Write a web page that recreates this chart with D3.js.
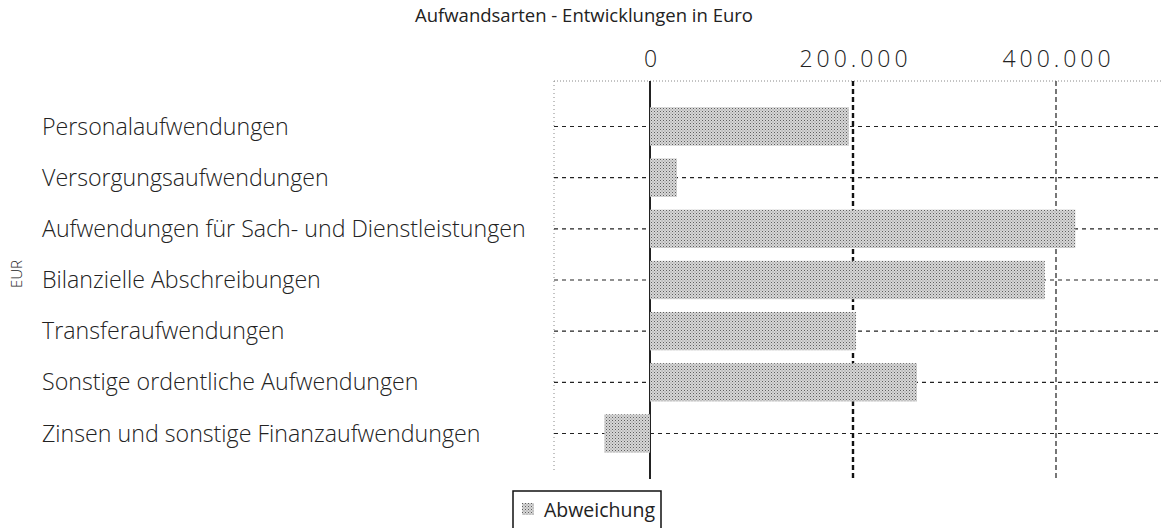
<!DOCTYPE html>
<html>
<head>
<meta charset="utf-8">
<script src="https://cdn.jsdelivr.net/npm/d3@7"></script>
<style>
  body { margin: 0; background: #fff; }
  text { font-family: "Open Sans", Lato, sans-serif; }
</style>
</head>
<body>
<div id="chart"></div>
<script>
// data
const categories = [
  "Personalaufwendungen",
  "Versorgungsaufwendungen",
  "Aufwendungen für Sach- und Dienstleistungen",
  "Bilanzielle Abschreibungen",
  "Transferaufwendungen",
  "Sonstige ordentliche Aufwendungen",
  "Zinsen und sonstige Finanzaufwendungen"
];
const abweichung = [196000, 26500, 419000, 389000, 203000, 263000, -45000];
const tickValues = [0, 200000, 400000];
const seriesName = "Abweichung";
const title = "Aufwandsarten - Entwicklungen in Euro";

const width = 1162, height = 528;
const plot = {left: 554, right: 1162, top: 81, bottom: 479};

const de = d3.formatLocale({decimal: ",", thousands: ".", grouping: [3], currency: ["", " €"]});

const svg = d3.select("#chart").append("svg")
  .attr("width", width)
  .attr("height", height);

// halftone-ish fill like the print
const defs = svg.append("defs");
const pat = defs.append("pattern")
  .attr("id", "dots")
  .attr("width", 3).attr("height", 3)
  .attr("patternUnits", "userSpaceOnUse");
pat.append("rect").attr("width", 3).attr("height", 3).attr("fill", "#d6d6d6");
pat.append("rect").attr("x", 0).attr("y", 0).attr("width", 1).attr("height", 1).attr("fill", "#5e5e5e");
pat.append("rect").attr("x", 1.5).attr("y", 1.5).attr("width", 1).attr("height", 1).attr("fill", "#8a8a8a");

const x = d3.scaleLinear()
  .domain([0, 400000])
  .range([650, 1056]);

const y = d3.scaleBand()
  .domain(categories)
  .range([94.5, 465.5])
  .padding(0.25);

// title
svg.append("text")
  .attr("x", 584).attr("y", 22)
  .attr("text-anchor", "middle")
  .attr("font-size", 18.5)
  .attr("fill", "#222")
  .text(title);

// frame: dotted top and left
svg.append("line")
  .attr("x1", plot.left).attr("x2", plot.right)
  .attr("y1", plot.top).attr("y2", plot.top)
  .attr("stroke", "#888").attr("stroke-dasharray", "1,2");
svg.append("line")
  .attr("x1", plot.left).attr("x2", plot.left)
  .attr("y1", plot.top).attr("y2", 472)
  .attr("stroke", "#888").attr("stroke-dasharray", "1,3");

// horizontal dashed grid at each category
svg.append("g")
  .selectAll("line")
  .data(categories)
  .join("line")
    .attr("x1", plot.left).attr("x2", plot.right)
    .attr("y1", d => y(d) + y.bandwidth() / 2)
    .attr("y2", d => y(d) + y.bandwidth() / 2)
    .attr("stroke", "#222")
    .attr("stroke-width", 1.2)
    .attr("stroke-dasharray", "4,4");

// vertical grid at 200.000 / 400.000
svg.append("g")
  .selectAll("line")
  .data(tickValues.filter(d => d !== 0))
  .join("line")
    .attr("x1", d => x(d)).attr("x2", d => x(d))
    .attr("y1", plot.top).attr("y2", plot.bottom)
    .attr("stroke", (d, i) => i === 0 ? "#111" : "#555")
    .attr("stroke-width", (d, i) => i === 0 ? 2.4 : 1.6)
    .attr("stroke-dasharray", "5,3");

// zero line
svg.append("line")
  .attr("x1", x(0)).attr("x2", x(0))
  .attr("y1", plot.top).attr("y2", plot.bottom)
  .attr("stroke", "#222").attr("stroke-width", 2);

// bars
svg.append("g")
  .selectAll("rect")
  .data(abweichung)
  .join("rect")
    .attr("x", d => x(Math.min(0, d)))
    .attr("y", (d, i) => y(categories[i]))
    .attr("width", d => Math.abs(x(d) - x(0)))
    .attr("height", y.bandwidth())
    .attr("fill", "url(#dots)");

// top axis labels
const axisTop = d3.axisTop(x)
  .tickValues(tickValues)
  .tickSize(0)
  .tickFormat(de.format(",d"));
const ax = svg.append("g")
  .attr("transform", "translate(2,70)")
  .call(axisTop);
ax.select(".domain").remove();
ax.selectAll("text")
  .attr("font-size", 23)
  .attr("font-weight", 300)
  .attr("letter-spacing", 4)
  .attr("fill", "#222")
  .attr("font-family", "'Open Sans', sans-serif");

// category labels
svg.append("g")
  .selectAll("text")
  .data(categories)
  .join("text")
    .attr("x", 42)
    .attr("y", d => y(d) + y.bandwidth() / 2)
    .attr("dy", "0.35em")
    .attr("font-size", 23.2)
    .attr("font-weight", 300)
    .attr("fill", "#222")
    .text(d => d);

// axis title
svg.append("text")
  .attr("transform", "translate(22,274) rotate(-90)")
  .attr("text-anchor", "middle")
  .attr("font-size", 15)
  .attr("font-weight", 300)
  .attr("fill", "#222")
  .text("EUR");

// legend
const lg = svg.append("g").attr("transform", "translate(513,491)");
lg.append("path")
  .attr("d", "M0,40 V0 H148 V40")
  .attr("fill", "none")
  .attr("stroke", "#111")
  .attr("stroke-width", 1.5);
lg.append("rect")
  .attr("x", 9).attr("y", 12).attr("width", 12).attr("height", 12)
  .attr("fill", "url(#dots)");
lg.append("text")
  .attr("x", 31).attr("y", 19)
  .attr("dy", "0.35em")
  .attr("font-size", 19.5)
  .attr("fill", "#222")
  .text(seriesName);
</script>
</body>
</html>
